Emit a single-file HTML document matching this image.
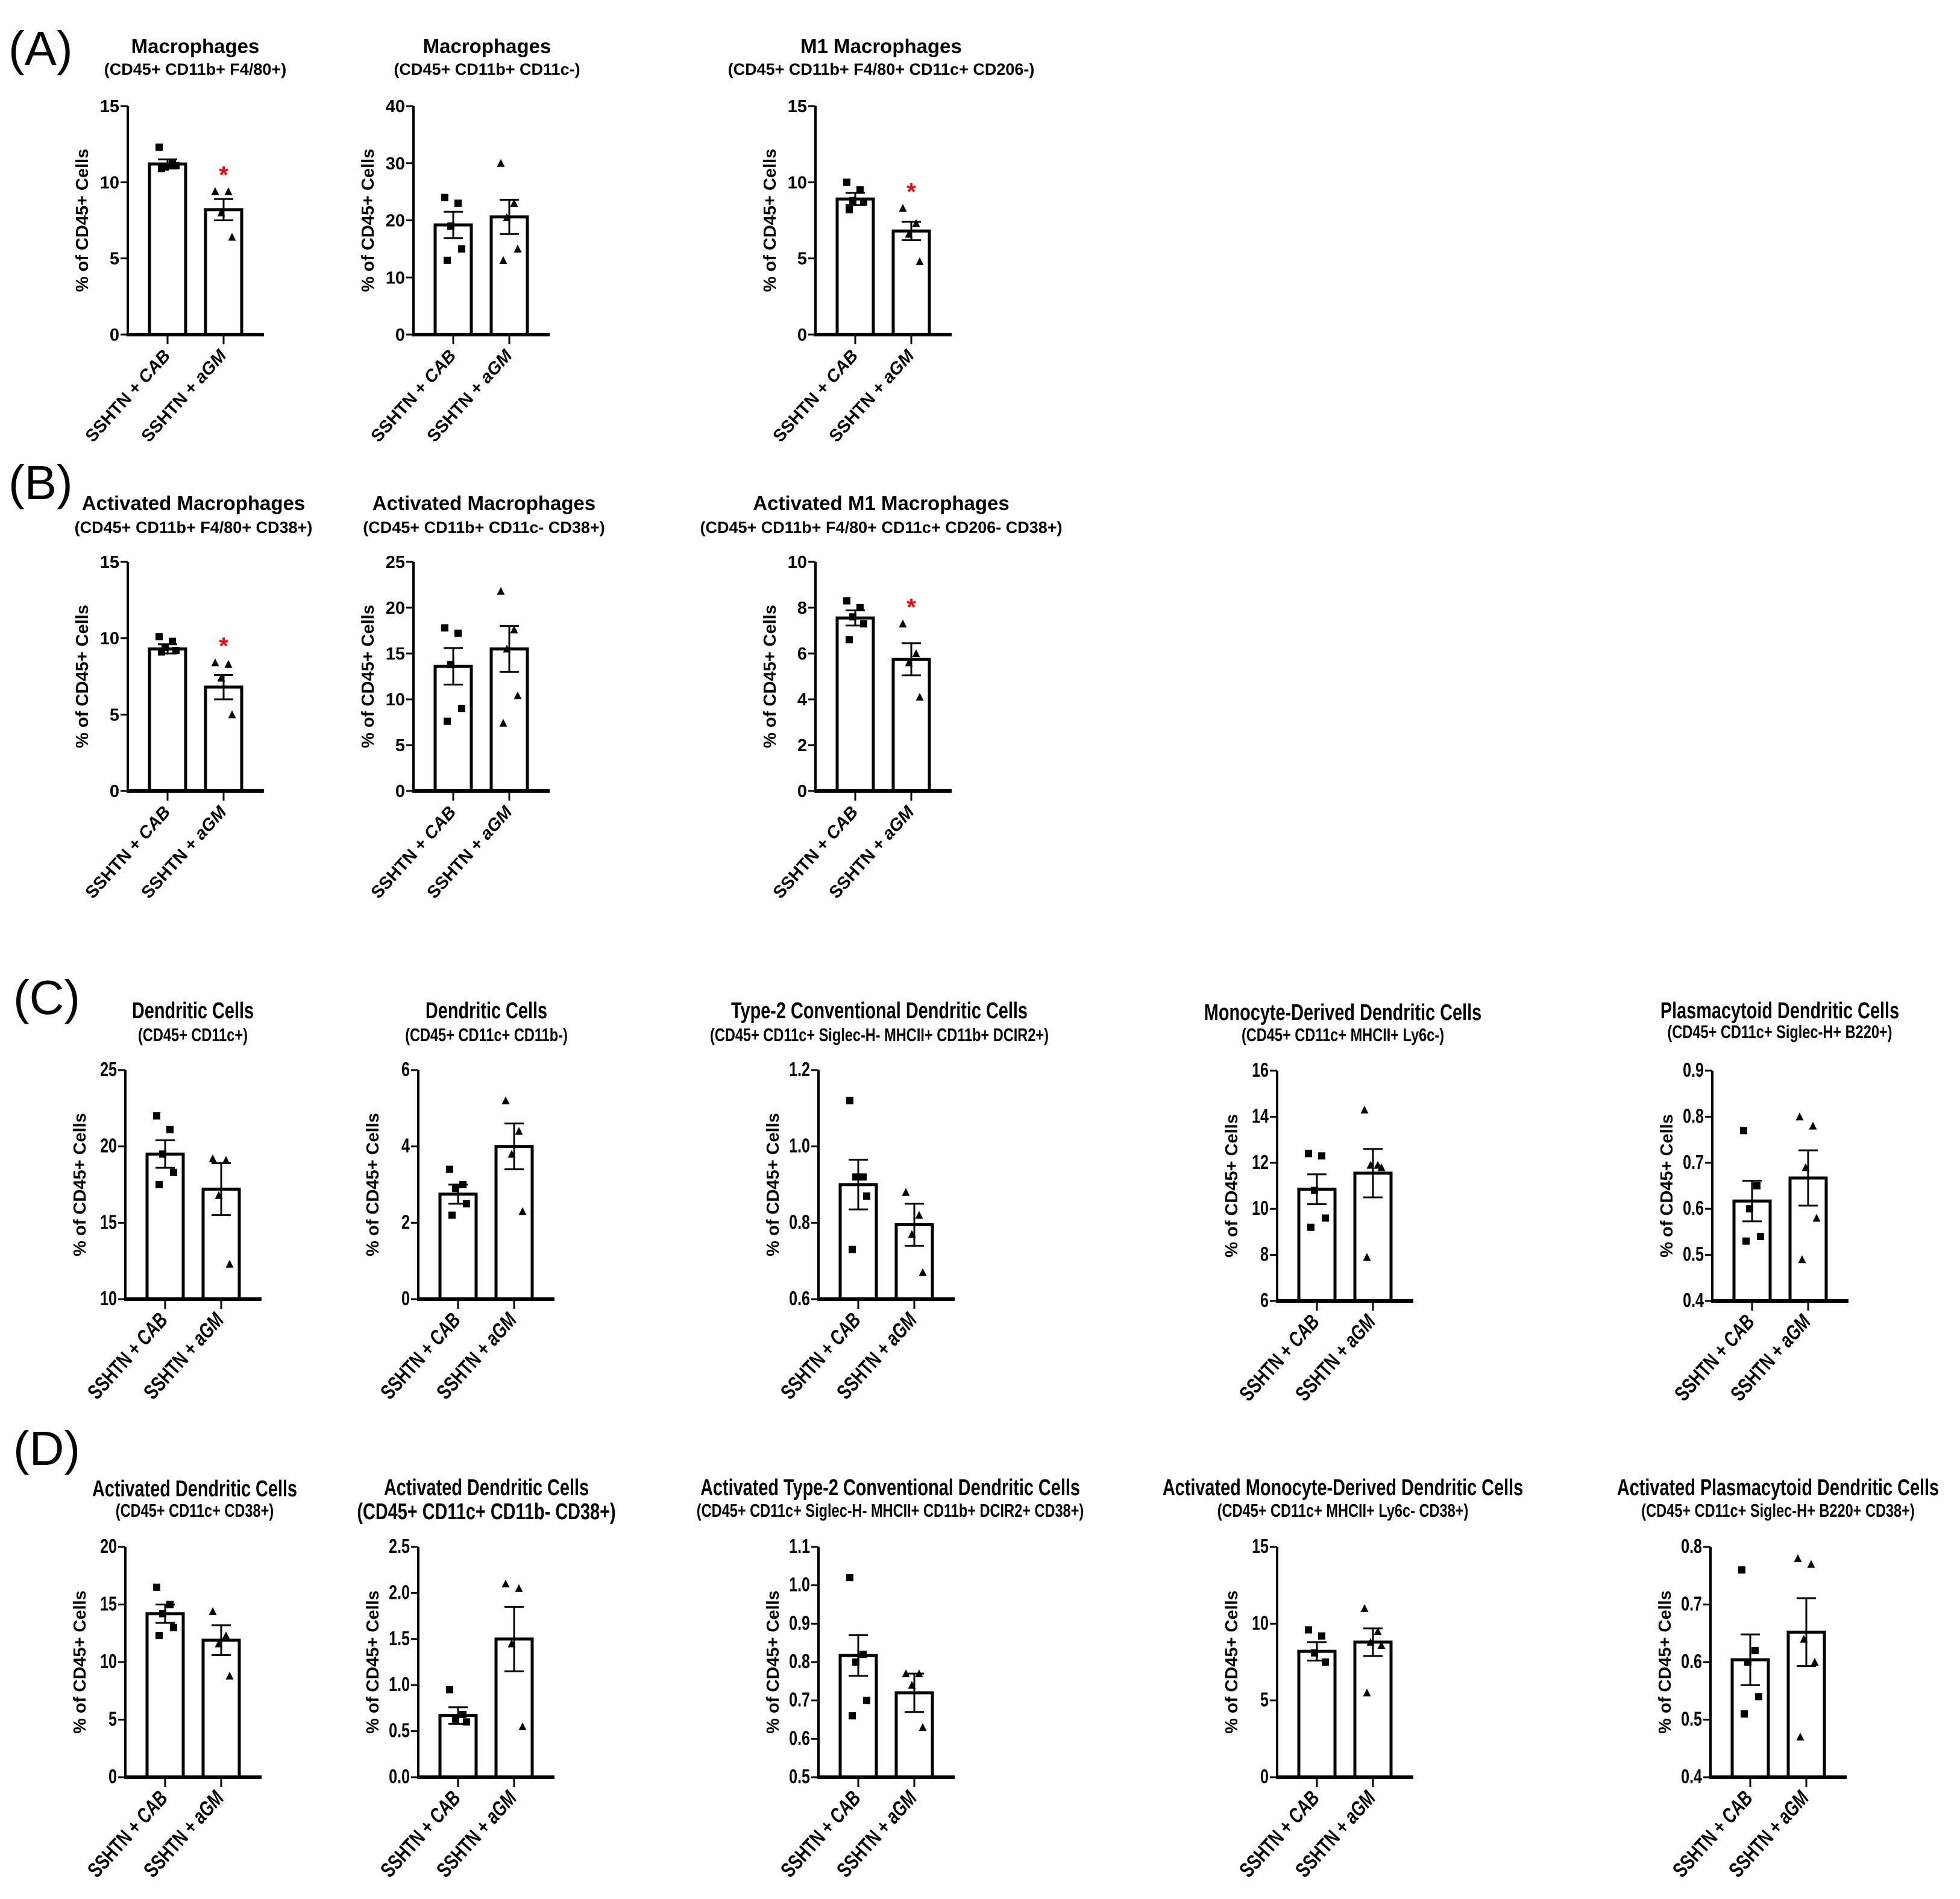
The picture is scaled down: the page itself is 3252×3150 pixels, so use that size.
<!DOCTYPE html>
<html><head><meta charset="utf-8"><style>
html,body{margin:0;padding:0;background:#fff;}
svg{display:block;}
</style></head><body>
<svg id="fig" xmlns="http://www.w3.org/2000/svg" width="3252" height="3150" viewBox="0 0 3252 3150">
<rect width="3252" height="3150" fill="#fff"/>
<text x="14" y="108" font-family="Liberation Sans, sans-serif" font-size="80">(A)</text>
<text x="14" y="828" font-family="Liberation Sans, sans-serif" font-size="80">(B)</text>
<text x="22" y="1682" font-family="Liberation Sans, sans-serif" font-size="80">(C)</text>
<text x="22" y="2430" font-family="Liberation Sans, sans-serif" font-size="80">(D)</text>
</svg>
<script>
// ---- data (mean, sem, individual points) ----
const groups = ["SSHTN + CAB", "SSHTN + aGM"];
const a1Mean=[11.2,8.2]; const a1Sem=[0.3,0.7]; const a1Cab=[12.3,11.2,11.0,11.1,10.9]; const a1Agm=[9.4,9.4,8.0,6.4];
const a2Mean=[19.2,20.6]; const a2Sem=[2.3,3.0]; const a2Cab=[24,23,19,15,13]; const a2Agm=[30,23,20.5,15,13];
const a3Mean=[8.9,6.8]; const a3Sem=[0.4,0.6]; const a3Cab=[10,9.5,8.8,8.7,8.2]; const a3Agm=[8.3,7.3,6.6,4.8];
const b1Mean=[9.3,6.8]; const b1Sem=[0.3,0.8]; const b1Cab=[10.1,9.8,9.4,9.2,9.1]; const b1Agm=[8.4,8.3,7.4,5.0];
const b2Mean=[13.6,15.5]; const b2Sem=[2.0,2.5]; const b2Cab=[17.8,17.2,13.8,9,7.6]; const b2Agm=[21.8,17.6,15.5,10.4,7.4];
const b3Mean=[7.55,5.75]; const b3Sem=[0.33,0.7]; const b3Cab=[8.3,8.0,7.6,7.3,6.6]; const b3Agm=[7.3,6.0,5.6,4.1];
const c1Mean=[19.5,17.2]; const c1Sem=[0.9,1.7]; const c1Cab=[22,21.1,19.5,18.3,17.5]; const c1Agm=[19.2,19.1,16.8,12.3];
const c2Mean=[2.75,4.0]; const c2Sem=[0.25,0.6]; const c2Cab=[3.4,3.0,2.9,2.5,2.2]; const c2Agm=[5.2,4.4,3.8,2.3];
const c3Mean=[0.9,0.795]; const c3Sem=[0.065,0.055]; const c3Cab=[1.12,0.92,0.92,0.87,0.73]; const c3Agm=[0.88,0.82,0.77,0.67];
const c4Mean=[10.85,11.55]; const c4Sem=[0.65,1.05]; const c4Cab=[12.4,12.3,10.8,9.6,9.2]; const c4Agm=[14.3,11.9,11.9,11.8,7.9];
const c5Mean=[0.617,0.667]; const c5Sem=[0.044,0.06]; const c5Cab=[0.77,0.65,0.6,0.54,0.53]; const c5Agm=[0.8,0.78,0.69,0.58,0.49];
const d1Mean=[14.2,11.9]; const d1Sem=[0.8,1.3]; const d1Cab=[16.5,15,14.2,13,12.3]; const d1Agm=[14.4,12.3,11.6,8.8];
const d2Mean=[0.67,1.5]; const d2Sem=[0.09,0.35]; const d2Cab=[0.95,0.68,0.63,0.6]; const d2Agm=[2.1,2.05,1.45,0.55];
const d3Mean=[0.817,0.72]; const d3Sem=[0.053,0.05]; const d3Cab=[1.02,0.82,0.8,0.7,0.66]; const d3Agm=[0.77,0.77,0.74,0.63];
const d4Mean=[8.2,8.8]; const d4Sem=[0.6,0.9]; const d4Cab=[9.6,9.2,8.1,7.5]; const d4Agm=[11,9.5,8.8,8.6,5.5];
const d5Mean=[0.604,0.652]; const d5Sem=[0.044,0.059]; const d5Cab=[0.76,0.62,0.6,0.54,0.51]; const d5Agm=[0.78,0.77,0.64,0.6,0.47];
// tick labels
const tA1=["0","5","10","15"]; const tA2=["0","10","20","30","40"]; const tA3=["0","5","10","15"];
const tB1=["0","5","10","15"]; const tB2=["0","5","10","15","20","25"]; const tB3=["0","2","4","6","8","10"];
const tC1=["10","15","20","25"]; const tC2=["0","2","4","6"]; const tC3=["0.6","0.8","1.0","1.2"]; const tC4=["6","8","10","12","14","16"]; const tC5=["0.4","0.5","0.6","0.7","0.8","0.9"];
const tD1=["0","5","10","15","20"]; const tD2=["0.0","0.5","1.0","1.5","2.0","2.5"]; const tD3=["0.5","0.6","0.7","0.8","0.9","1.0","1.1"]; const tD4=["0","5","10","15"]; const tD5=["0.4","0.5","0.6","0.7","0.8"];
const sigA1=[false,true]; const sigA3=[false,true]; const sigB1=[false,true]; const sigB3=[false,true];

const NS="http://www.w3.org/2000/svg";
const svg=document.getElementById('fig');
function mk(tag,attrs,parent){const e=document.createElementNS(NS,tag);for(const k in attrs)e.setAttribute(k,attrs[k]);(parent||svg).appendChild(e);return e;}
const FAM='"Liberation Sans",sans-serif';
function txt(g,x,y,str,size,anchor,sx,rot,extra){
  const a=Object.assign({x:0,y:0,'text-anchor':anchor,'font-family':FAM,'font-weight':'bold','font-size':size,
    transform:`translate(${x} ${y}) rotate(${rot||0}) scale(${sx} 1)`},extra||{});
  const t=mk('text',a,g);
  if(str!==null)t.textContent=str;
  return t;
}

const jit=[-14,8,-4,14,-10];
function chart(id,ax,top,bot,ticks,mean,sem,cab,agm,sig,title,sub,tcx,ty,sy,narrow,subSize){
  const g=mk('g',{});
  
  
  const sx=narrow?0.76:1;
  const ymin=parseFloat(ticks[0]), ymax=parseFloat(ticks[ticks.length-1]);
  const y=v=>bot-(v-ymin)/(ymax-ymin)*(bot-top);
  const t=txt(g,tcx,ty,title,narrow?38:33,'middle',sx);
  
  
  const s=txt(g,tcx,sy,sub,subSize||(narrow?31:27),'middle',sx);
  
  
  const yl=mk('line',{x1:ax,y1:top,x2:ax,y2:bot,stroke:'#000','stroke-width':4},g);
  
  
  ticks.forEach(tk=>{
    const v=parseFloat(tk), yy=y(v);
    const tl=mk('line',{x1:ax-12,y1:yy,x2:ax,y2:yy,stroke:'#000','stroke-width':3},g);
    
    
    const tx=txt(g,ax-14,yy+10,tk,narrow?33:29,'end',sx);
    
    
  });
  const cy=(top+bot)/2;
  const ylab=txt(g,ax-66,cy,'% of CD45+ Cells',29,'middle',1,-90);
  
  
  const centers=[ax+66,ax+159];
  const pts=[cab,agm];
  for(let i=0;i<2;i++){
    const cx=centers[i], my=y(mean[i]);
    const bar=mk('rect',{x:cx-30,y:my,width:60,height:bot-my,fill:'#fff',stroke:'#000','stroke-width':5},g);
    
    
    const hi=y(mean[i]+sem[i]), lo=y(mean[i]-sem[i]);
    const eb=mk('path',{d:`M${cx},${hi}V${lo}M${cx-16},${hi}H${cx+16}M${cx-16},${lo}H${cx+16}`,stroke:'#000','stroke-width':3,fill:'none'},g);
    
    
    pts[i].forEach((v,k)=>{
      const px=cx+jit[k%jit.length], py=y(v);
      let p;
      if(i===0) p=mk('rect',{x:px-6,y:py-6,width:12,height:12,fill:'#000'},g);
      else p=mk('path',{d:`M${px},${py-7}L${px+6.5},${py+6}L${px-6.5},${py+6}Z`,fill:'#000'},g);
      
      
    });
    if(sig[i]){
      const st=mk('text',{x:cx,y:y(Math.max(...pts[i]))-14,'text-anchor':'middle','font-family':FAM,'font-weight':'bold','font-size':40,fill:'#ff0000'},g);
      st.textContent='*';
      
      
    }
    const xt=mk('line',{x1:cx,y1:bot,x2:cx,y2:bot+16,stroke:'#000','stroke-width':3},g);
    
    
    const xl=txt(g,cx+6,bot+36,null,narrow?35:29,'end',sx,-48);
    const a=document.createElementNS(NS,'tspan');a.textContent='SSHTN + ';xl.appendChild(a);
    const b=document.createElementNS(NS,'tspan');b.setAttribute('font-style','italic');b.textContent=i?'aGM':'CAB';xl.appendChild(b);
    
    
  }
  const bl=mk('line',{x1:ax-2,y1:bot,x2:ax+226,y2:bot,stroke:'#000','stroke-width':6},g);
  
  
}
const nf=[false,false];
chart('chart-a1',212,176,555,tA1,a1Mean,a1Sem,a1Cab,a1Agm,sigA1,'Macrophages','(CD45+ CD11b+ F4/80+)',324,88,124,false);
chart('chart-a2',686,176,555,tA2,a2Mean,a2Sem,a2Cab,a2Agm,nf,'Macrophages','(CD45+  CD11b+ CD11c-)',808,88,124,false);
chart('chart-a3',1353,176,555,tA3,a3Mean,a3Sem,a3Cab,a3Agm,sigA3,'M1 Macrophages','(CD45+ CD11b+ F4/80+ CD11c+ CD206-)',1462,88,124,false);
chart('chart-b1',212,932,1312,tB1,b1Mean,b1Sem,b1Cab,b1Agm,sigB1,'Activated Macrophages','(CD45+ CD11b+ F4/80+ CD38+)',321,846,884,false);
chart('chart-b2',686,932,1312,tB2,b2Mean,b2Sem,b2Cab,b2Agm,nf,'Activated Macrophages','(CD45+ CD11b+ CD11c- CD38+)',803,846,884,false);
chart('chart-b3',1353,932,1312,tB3,b3Mean,b3Sem,b3Cab,b3Agm,sigB3,'Activated M1 Macrophages','(CD45+ CD11b+ F4/80+ CD11c+ CD206- CD38+)',1462,846,884,false);
chart('chart-c1',208,1775,2155,tC1,c1Mean,c1Sem,c1Cab,c1Agm,nf,'Dendritic Cells','(CD45+ CD11c+)',320,1689,1727,true);
chart('chart-c2',694,1775,2155,tC2,c2Mean,c2Sem,c2Cab,c2Agm,nf,'Dendritic Cells','(CD45+ CD11c+ CD11b-)',807,1689,1727,true);
chart('chart-c3',1358,1775,2155,tC3,c3Mean,c3Sem,c3Cab,c3Agm,nf,'Type-2 Conventional Dendritic Cells','(CD45+ CD11c+ Siglec-H- MHCII+ CD11b+ DCIR2+)',1459,1689,1727,true);
chart('chart-c4',2119,1776,2158,tC4,c4Mean,c4Sem,c4Cab,c4Agm,nf,'Monocyte-Derived Dendritic Cells','(CD45+ CD11c+ MHCII+ Ly6c-)',2228,1692,1727,true);
chart('chart-c5',2841,1776,2158,tC5,c5Mean,c5Sem,c5Cab,c5Agm,nf,'Plasmacytoid Dendritic Cells','(CD45+ CD11c+ Siglec-H+ B220+)',2953,1689,1722,true);
chart('chart-d1',208,2566,2948,tD1,d1Mean,d1Sem,d1Cab,d1Agm,nf,'Activated Dendritic Cells','(CD45+ CD11c+ CD38+)',323,2482,2516,true);
chart('chart-d2',694,2566,2948,tD2,d2Mean,d2Sem,d2Cab,d2Agm,nf,'Activated Dendritic Cells','(CD45+ CD11c+ CD11b- CD38+)',807,2480,2520,true,38);
chart('chart-d3',1358,2566,2948,tD3,d3Mean,d3Sem,d3Cab,d3Agm,nf,'Activated Type-2 Conventional Dendritic Cells','(CD45+ CD11c+ Siglec-H- MHCII+ CD11b+ DCIR2+ CD38+)',1477,2480,2516,true);
chart('chart-d4',2119,2566,2948,tD4,d4Mean,d4Sem,d4Cab,d4Agm,nf,'Activated Monocyte-Derived Dendritic Cells','(CD45+ CD11c+ MHCII+ Ly6c- CD38+)',2228,2480,2516,true);
chart('chart-d5',2838,2566,2948,tD5,d5Mean,d5Sem,d5Cab,d5Agm,nf,'Activated Plasmacytoid Dendritic Cells','(CD45+ CD11c+ Siglec-H+ B220+ CD38+)',2950,2480,2516,true);
</script>
</body></html>
